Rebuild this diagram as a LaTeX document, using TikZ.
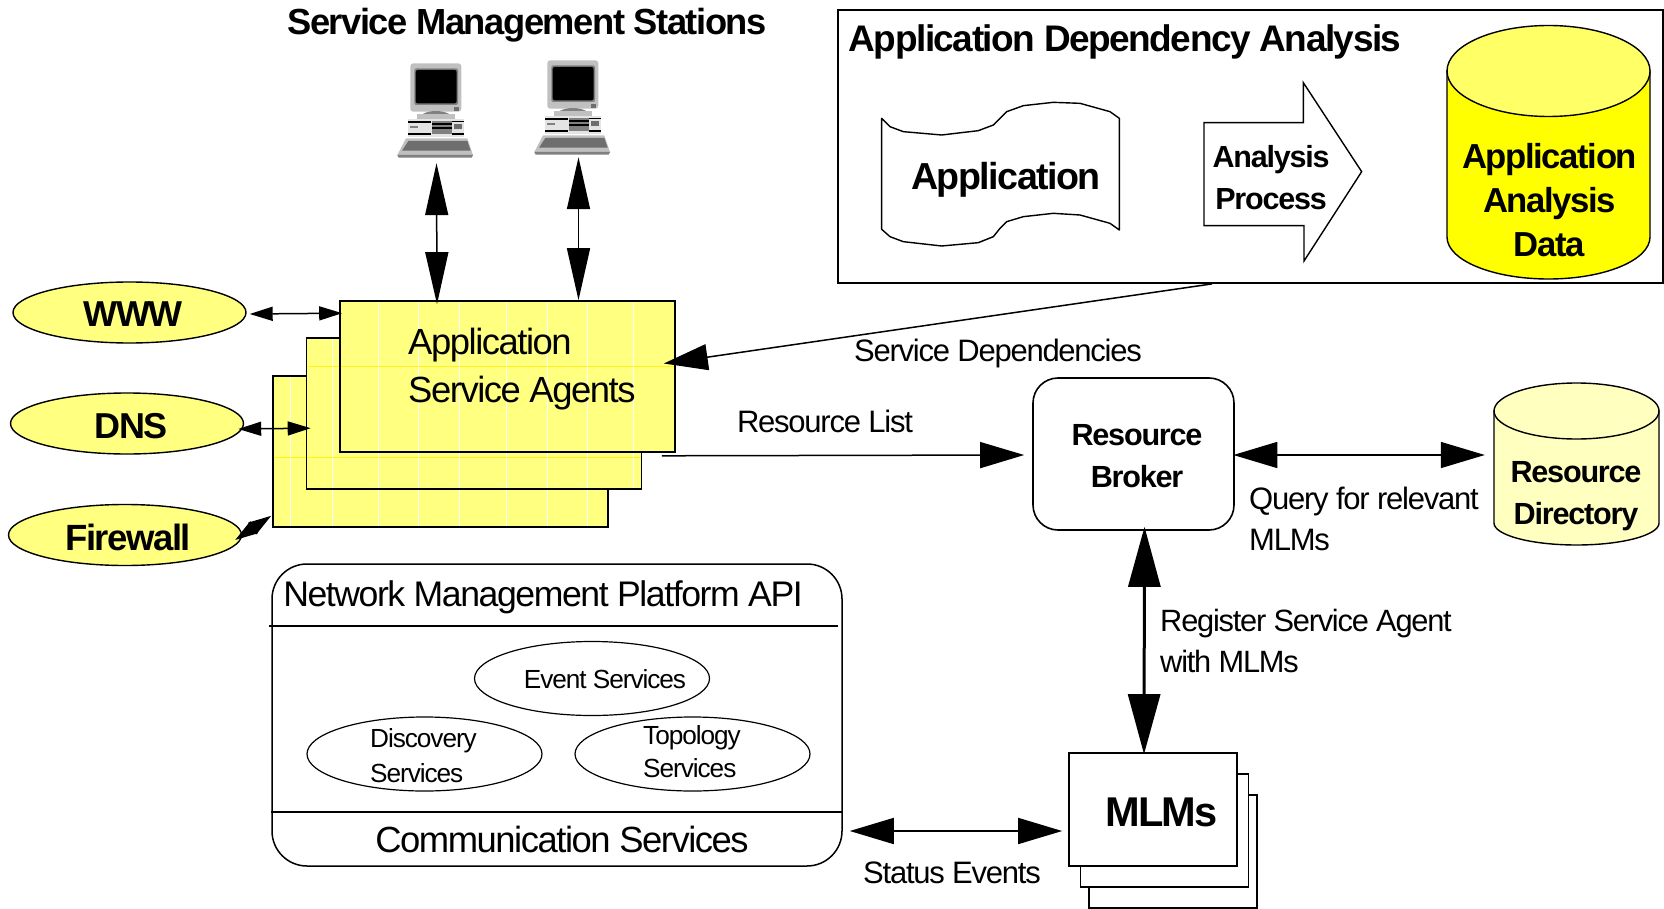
\documentclass[tikz,border=0pt]{standalone}
\usepackage{fontspec}
\usetikzlibrary{arrows.meta,shapes.geometric}
\newfontfamily\rgfam[LetterSpace=-4]{Liberation Sans}
\newfontfamily\bdfam[LetterSpace=-4,BoldFont={Liberation Sans Bold}]{Liberation Sans Bold}
\newcommand\rgf[2]{\rgfam\fontsize{#1pt}{#2pt}\selectfont}
\newcommand\bdf[2]{\bdfam\fontsize{#1pt}{#2pt}\selectfont}
\definecolor{agentfill}{HTML}{FFFF80}
\definecolor{cylside}{HTML}{FFFF00}
\definecolor{cyltop}{HTML}{FFFF66}
\definecolor{dirfill}{HTML}{FFFFC0}
\definecolor{pcA}{HTML}{C0C0C0}
\definecolor{pcB}{HTML}{808080}
\definecolor{pcC}{HTML}{6E6E6E}
\definecolor{pcD}{HTML}{E4E4E4}
\tikzset{
  lbl/.style={inner sep=0pt,align=center},
  lbll/.style={inner sep=0pt,align=left},
  agentbox/.style={draw=black,line width=1.6pt,fill=agentfill,minimum width=335pt,minimum height=151pt,inner sep=0pt},
  mlmbox/.style={draw=black,line width=1.6pt,fill=white,minimum width=168pt,minimum height=113pt,inner sep=0pt},
  svcoval/.style={draw=black,line width=1.4pt,fill=agentfill,ellipse,minimum width=233pt,minimum height=61pt,inner sep=0pt},
  apioval/.style={draw=black,line width=1.2pt,ellipse,minimum width=235pt,minimum height=74pt,inner sep=0pt},
  conn/.style={line width=1.5pt,draw=black},
  smallhead/.style={conn,{Triangle[length=23pt,width=14pt]}-{Triangle[length=23pt,width=14pt]}},
  bighead/.style={conn,{Triangle[length=44pt,width=26pt]}-{Triangle[length=44pt,width=26pt]}},
  onehead/.style={conn,-{Triangle[length=44pt,width=26pt]}},
  pchead/.style={conn,{Triangle[length=52pt,width=23pt]}-{Triangle[length=52pt,width=23pt]}},
  thickhead/.style={line width=3pt,draw=black,{Triangle[length=60pt,width=32pt]}-{Triangle[length=60pt,width=32pt]}},
  glitch/.style={line width=0.7pt,draw=white},
  glitchh/.style={line width=0.6pt,draw=yellow!80!agentfill},
}
\newcommand\pcicon[2]{%
\begin{scope}[shift={(#1,#2)},x=0.33333pt,y=-0.33333pt]
  \fill[pcA,rounded corners=3pt] (91,70) rectangle (244,215);
  \fill[pcB,rounded corners=2pt] (103,85) rectangle (234,195);
  \fill[black,rounded corners=2pt] (107,90) rectangle (230,190);
  \fill[pcC] (222,202) rectangle (236,212);
  \fill[pcB] (128,222) .. controls (150,210) and (185,210) .. (208,222) -- cycle;
  \fill[pcA] (110,222) rectangle (226,236);
  \fill[pcD] (84,236) rectangle (252,290);
  \fill[black] (84,243) rectangle (152,248);
  \fill[black] (84,278) rectangle (152,284);
  \fill[black] (216,243) rectangle (252,247);
  \fill[black] (216,278) rectangle (252,284);
  \fill[pcB] (155,243) rectangle (216,282);
  \fill[black] (155,250) rectangle (216,254);
  \fill[black] (155,262) rectangle (216,266);
  \fill[pcC] (222,252) rectangle (246,268);
  \fill[pcB] (90,258) rectangle (115,265);
  \fill[pcA] (78,295) -- (262,295) -- (279,345) -- (52,345) -- cycle;
  \fill[pcC] (85,303) -- (262,303) -- (272,332) -- (66,332) -- cycle;
  \fill[pcB] (52,345) -- (279,345) -- (275,353) -- (56,353) -- cycle;
\end{scope}}
\begin{document}
\begin{tikzpicture}[x=1pt,y=-1pt]
\useasboundingbox (0,0) rectangle (1664,909);
% Title and stations
\node[lbl,font={\bdf{36.3}{40}}] (title) at (527,25) {Service Management Stations};
\pcicon{380}{40}
\pcicon{517}{37}
\node[minimum width=76pt,minimum height=94pt,inner sep=0pt] (pc1) at (435,110) {};
\node[minimum width=76pt,minimum height=94pt,inner sep=0pt] (pc2) at (572,107) {};
% Application dependency analysis
\node[draw=black,line width=1.8pt,minimum width=825pt,minimum height=273pt,inner sep=0pt] (ada) at (1250.5,146.5) {};
\node[lbll,font={\bdf{37}{40}},anchor=west] (adat) at (848.5,42) {Application Dependency Analysis};
\begin{scope}[shift={(860,80)},x=0.33333pt,y=-0.33333pt]
  \draw[black,line width=1.4pt,line join=round] (65,115) -- (90,140) -- (130,155) -- (245,165) -- (355,152) -- (400,135) -- (420,115) -- (440,95) -- (490,77) -- (580,67) -- (660,70) -- (750,95) -- (778,115) -- (778,450) -- (750,430) -- (660,405) -- (580,400) -- (490,410) -- (440,425) -- (420,445) -- (400,470) -- (355,488) -- (245,498) -- (130,485) -- (90,470) -- (65,448) -- cycle;
  \draw[black,line width=1.4pt,line join=miter] (1032,128) -- (1330,128) -- (1330,8) -- (1505,275) -- (1332,543) -- (1332,437) -- (1032,437) -- cycle;
\end{scope}
\node[lbl,font={\bdf{37.6}{40}}] (appdoc) at (1006,180) {Application};
\node[lbl,font={\bdf{30.5}{42}}] (process) at (1271,178) {Analysis\\Process};
% Yellow cylinder
\path[draw=black,line width=1.4pt,fill=cylside] (1447,71) -- (1447,237) arc[start angle=180,end angle=360,x radius=101.5pt,y radius=42pt] -- (1650,71) -- cycle;
\path[draw=black,line width=1.4pt,fill=cyltop] (1548.5,71) ellipse[x radius=101.5pt,y radius=45.5pt];
\node[lbl,font={\bdf{34.7}{44}}] (appdata) at (1549.5,200) {Application\\Analysis\\Data};
% Agent stack
\node[agentbox] (agent3) at (440.5,451.5) {};
\foreach \gx in {290,332,378,418,459,506,547,587} \draw[glitch] (\gx,377) -- (\gx,526);
\draw[glitchh] (274,457) -- (607,457);
\node[agentbox] (agent2) at (474,413.5) {};
\foreach \gx in {332,378,418,459,506,547,587,633} \draw[glitch] (\gx,339) -- (\gx,488);
\draw[glitchh] (308,366) -- (641,366);
\draw[glitchh] (308,457) -- (641,457);
\node[agentbox] (agent1) at (507.5,376.5) {};
\foreach \gx in {378,418,459,506,547,587,633} \draw[glitch] (\gx,302) -- (\gx,451);
\draw[glitchh] (341,366) -- (674,366);
\node[lbll,font={\rgf{36.4}{48}},anchor=west] (agentt) at (408,369) {Application\\Service Agents};
% Service ovals
\node[svcoval] (www) at (129.5,312.5) {};
\node[svcoval] (dns) at (127,423.5) {};
\node[svcoval] (firewall) at (125,535) {};
\node[lbl,font={\bdf{36}{40}}] (wwwt) at (133,314) {WWW};
\node[lbl,font={\bdf{36}{40}}] (dnst) at (131,426) {DNS};
\node[lbl,font={\bdf{36.5}{40}}] (firet) at (128,537) {Firewall};
% Broker and directory
\node[draw=black,line width=1.6pt,rounded corners=25pt,minimum width=201pt,minimum height=152pt,inner sep=0pt] (broker) at (1133.5,454) {};
\node[lbl,font={\bdf{30.6}{42}}] (brokert) at (1137,456) {Resource\\Broker};
\path[draw=black,line width=1.4pt,fill=dirfill] (1494,411) -- (1494,523) arc[start angle=180,end angle=360,x radius=82.5pt,y radius=22pt] -- (1659,411) -- cycle;
\path[draw=black,line width=1.4pt,fill=dirfill] (1576.5,411) ellipse[x radius=82.5pt,y radius=28pt];
\node[lbl,minimum width=165pt,minimum height=162pt] (resdir) at (1576.5,464) {};
\node[lbl,font={\bdf{30.6}{42}}] (resdirt) at (1576,496.5) {Resource\\Directory};
% MLMs
\node[mlmbox] (mlm3) at (1173,851.5) {};
\node[mlmbox] (mlm2) at (1164.5,830.5) {};
\node[mlmbox] (mlm1) at (1153,809.5) {};
\node[lbl,font={\bdf{41.6}{44}}] (mlmt) at (1161.5,812.5) {MLMs};
% API
\node[draw=black,line width=1.5pt,rounded corners=35pt,minimum width=570pt,minimum height=302pt,inner sep=0pt] (api) at (557,715) {};
\coordinate (apil) at (269,626);
\coordinate (apir) at (838,626);
\draw[line width=1.3pt] (apil) -- (apir);
\draw[line width=1.3pt] (api.west |- 0,812) -- (api.east |- 0,812);
\node[lbl,font={\rgf{35.6}{40}}] (apit) at (543,597.5) {Network Management Platform API};
\node[lbl,font={\rgf{36.4}{40}}] (comm) at (562,839) {Communication Services};
\node[apioval] (event) at (592,678.5) {};
\node[apioval] (disc) at (424.5,754) {};
\node[apioval] (topo) at (692.5,754) {};
\node[lbl,font={\rgf{26.2}{30}}] (eventt) at (605,679) {Event Services};
\node[lbll,font={\rgf{26.2}{35}},anchor=west] (disct) at (370,756) {Discovery\\Services};
\node[lbll,font={\rgf{26.2}{33}},anchor=west] (topot) at (643,752) {Topology\\Services};
% Labels
\node[lbl,font={\rgf{31}{36}}] (sdep) at (998,353) {Service Dependencies};
\node[lbl,font={\rgf{31}{36}}] (rlist) at (825,421.5) {Resource List};
\node[lbll,font={\rgf{31}{41}},anchor=west] (query) at (1249,519) {Query for relevant\\MLMs};
\node[lbll,font={\rgf{30.8}{41}},anchor=west] (reg) at (1160,641) {Register Service Agent\\with MLMs};
\node[lbl,font={\rgf{31}{36}}] (status) at (952,872.5) {Status Events};
% Connectors
\draw[pchead] ([xshift=1.5pt,yshift=-6pt]pc1.south) -- ([xshift=-70.5pt,yshift=-4pt]agent1.north);
\draw[pchead] ([xshift=6.5pt,yshift=-3pt]pc2.south) -- ([xshift=71pt]agent1.north);
\draw[smallhead] ([xshift=3pt,yshift=-1.5pt]www.east) -- ([xshift=3pt,yshift=-13pt]agent1.north west);
\draw[smallhead] ([xshift=-6pt,yshift=-5.5pt]dns.east) -- ([xshift=5pt,yshift=-91pt]agent2.north west);
\draw[smallhead] ([xshift=-7pt,yshift=-5pt]firewall.east) -- ([xshift=-1pt,yshift=12pt]agent3.south west);
\draw[onehead] ([xshift=-38.5pt]ada.south) -- ([xshift=-12pt,yshift=13pt]agent1.east);
\draw[onehead] ([xshift=-14pt,yshift=-3pt]agent1.south east) -- ([xshift=-8pt,yshift=-1pt]broker.west);
\draw[bighead] ([xshift=-1.5pt,yshift=-1pt]broker.east) -- ([xshift=-9pt,yshift=9pt]resdir.west);
\draw[thickhead] ([xshift=11pt,yshift=4pt]broker.south) -- ([xshift=-9pt,yshift=-2pt]mlm1.north);
\draw[bighead] ([xshift=7pt,yshift=-116pt]api.east) -- ([xshift=-6pt,yshift=-21.5pt]mlm1.west);
\end{tikzpicture}
\end{document}
